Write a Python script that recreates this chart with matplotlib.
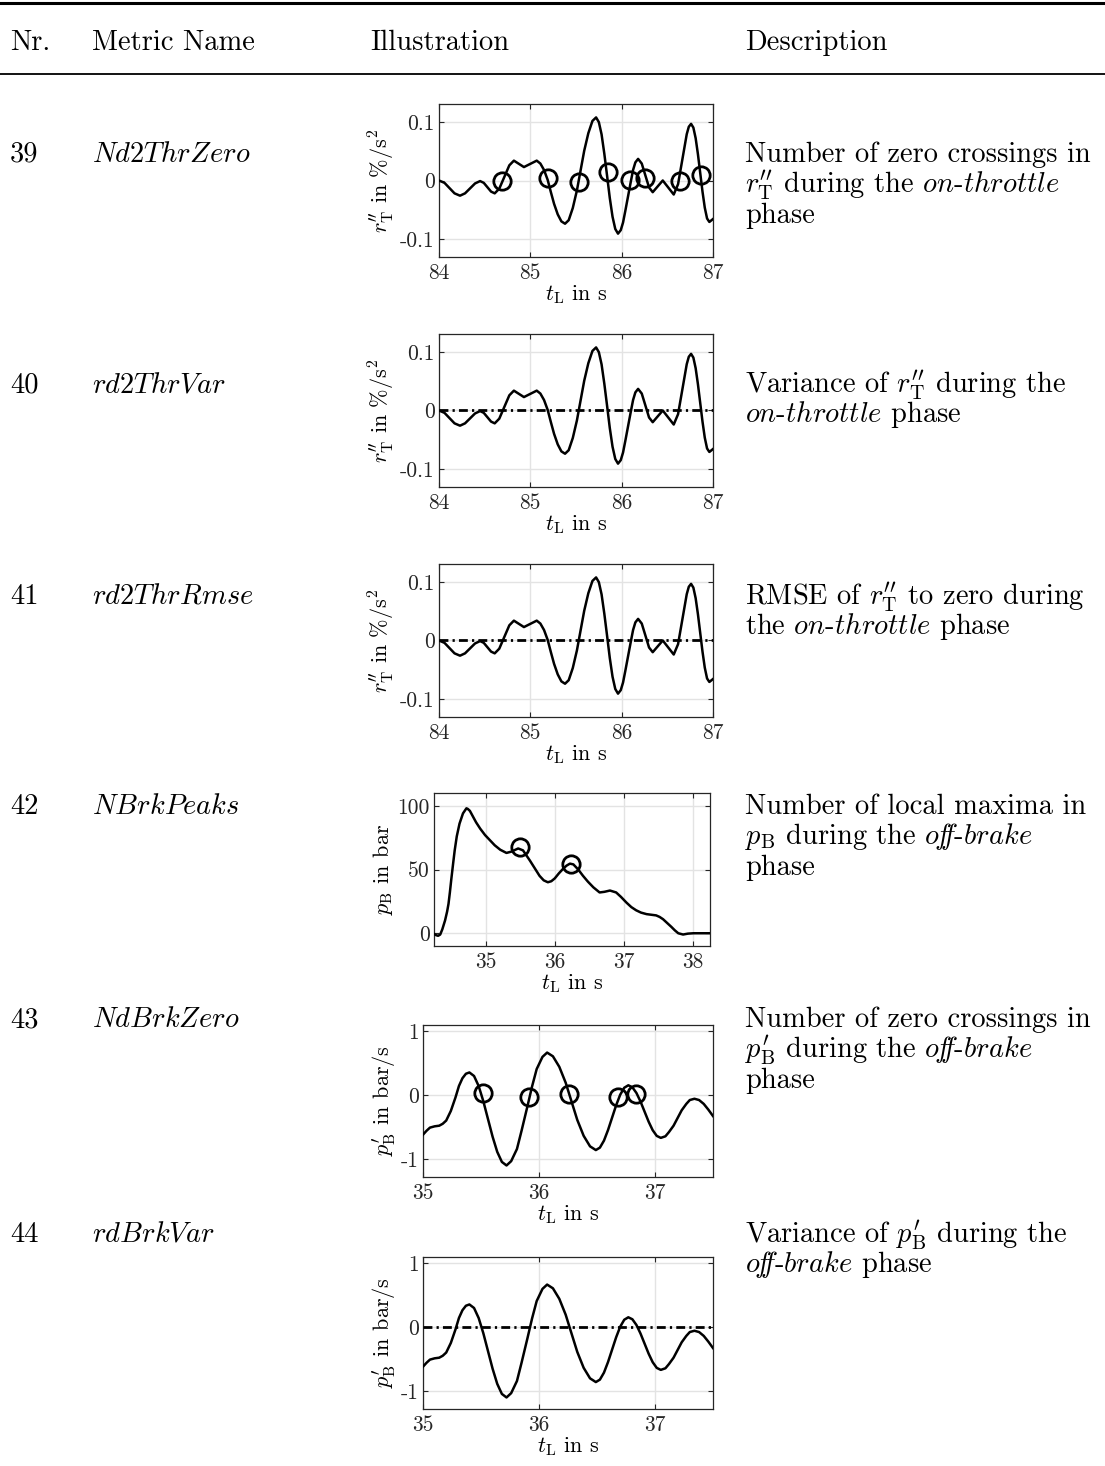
import matplotlib
matplotlib.use("Agg")
import matplotlib.pyplot as plt
from matplotlib.lines import Line2D

plt.rcParams['font.family'] = ['cmr10', 'DejaVu Serif']
plt.rcParams['mathtext.fontset'] = 'cm'
plt.rcParams['axes.unicode_minus'] = False
plt.rcParams['axes.formatter.use_mathtext'] = True

W, H = 1105, 1466

## table content
nr = ['39', '40', '41', '42', '43', '44']
names = [r'$Nd2ThrZero$', r'$rd2ThrVar$', r'$rd2ThrRmse$',
         r'$NBrkPeaks$', r'$NdBrkZero$', r'$rdBrkVar$']
descr = [
    ['Number of zero crossings in',
     r'$r^{\prime\prime}_{\mathrm{T}}$ during the $\mathit{on}$-$\mathit{throttle}$',
     'phase'],
    [r'Variance of $r^{\prime\prime}_{\mathrm{T}}$ during the',
     r'$\mathit{on}$-$\mathit{throttle}$ phase'],
    [r'RMSE of $r^{\prime\prime}_{\mathrm{T}}$ to zero during',
     r'the $\mathit{on}$-$\mathit{throttle}$ phase'],
    ['Number of local maxima in',
     r'$p_{\mathrm{B}}$ during the $\mathit{o\!f\!\!f}$-$\mathit{brake}$',
     'phase'],
    ['Number of zero crossings in',
     r'$p^{\prime}_{\mathrm{B}}$ during the $\mathit{o\!f\!\!f}$-$\mathit{brake}$',
     'phase'],
    [r'Variance of $p^{\prime}_{\mathrm{B}}$ during the',
     r'$\mathit{o\!f\!\!f}$-$\mathit{brake}$ phase'],
]
header = ['Nr.', 'Metric Name', 'Illustration', 'Description']

## second derivative of throttle (rows 39-41)
t_thr = [84.00, 84.06, 84.115, 84.17, 84.23, 84.285, 84.34, 84.395, 84.45, 84.49,
         84.53, 84.57, 84.61, 84.66, 84.715, 84.77, 84.82, 84.875, 84.93, 85.00,
         85.07, 85.11, 85.15, 85.19, 85.225, 85.26, 85.30, 85.34, 85.38, 85.42,
         85.465, 85.51, 85.55, 85.59, 85.635, 85.68, 85.72, 85.75, 85.78, 85.81,
         85.84, 85.87, 85.90, 85.93, 85.96, 85.99, 86.015, 86.04, 86.07, 86.10,
         86.125, 86.15, 86.18, 86.22, 86.26, 86.30, 86.34, 86.395, 86.45, 86.51,
         86.57, 86.6175, 86.665, 86.7125, 86.735, 86.76, 86.785, 86.81, 86.835, 86.86,
         86.885, 86.91, 86.935, 86.96, 87.00]
r_thr = [0.000, -0.004, -0.013, -0.022, -0.026, -0.022, -0.0135, -0.005, -0.001, -0.004,
         -0.0115, -0.019, -0.022, -0.014, 0.006, 0.026, 0.034, 0.0285, 0.023, 0.0285,
         0.034, 0.029, 0.018, 0.001, -0.020, -0.040, -0.058, -0.070, -0.074, -0.068,
         -0.047, -0.017, 0.017, 0.051, 0.081, 0.102, 0.108, 0.100, 0.079, 0.046,
         0.0085, -0.030, -0.062, -0.083, -0.091, -0.085, -0.072, -0.052, -0.027, -0.002,
         0.018, 0.031, 0.037, 0.029, 0.0085, -0.012, -0.020, -0.010, 0.000, -0.012,
         -0.024, -0.0063, 0.0365, 0.0793, 0.092, 0.097, 0.0906, 0.0725, 0.045, 0.013,
         -0.019, -0.0465, -0.065, -0.071, -0.066]
t_thr_zero = [84.69, 85.19, 85.53, 85.85, 86.09, 86.25, 86.64, 86.87]
r_thr_zero = [0.000, 0.004, -0.002, 0.014, 0.001, 0.004, 0.000, 0.009]

## brake pressure (row 42)
t_brk = [34.25, 34.28, 34.31, 34.34, 34.37, 34.41, 34.44, 34.46, 34.48, 34.50,
         34.53, 34.55, 34.58, 34.62, 34.67, 34.72, 34.74, 34.77, 34.81, 34.86,
         34.92, 34.99, 35.06, 35.13, 35.21, 35.30, 35.37, 35.47, 35.54, 35.64,
         35.71, 35.78, 35.84, 35.90, 35.95, 36.00, 36.06, 36.12, 36.17, 36.22,
         36.27, 36.34, 36.41, 36.48, 36.56, 36.65, 36.72, 36.80, 36.89, 36.96,
         37.04, 37.11, 37.18, 37.25, 37.33, 37.40, 37.47, 37.52, 37.57, 37.63,
         37.69, 37.74, 37.79, 37.86, 37.93, 38.01, 38.25]
p_brk = [-0.5, -1.5, -2, -1, 3, 10, 17, 23, 32, 42,
         56, 65, 76, 86, 94, 98, 97.5, 96, 92, 87,
         82, 77, 73, 69, 65.5, 63, 64, 66.5, 65, 57,
         51, 45, 41.5, 40, 40.8, 43, 47, 50.5, 53, 54.6,
         54, 50, 45, 40.5, 36, 32, 32.5, 33.5, 32, 28.5,
         24, 20.5, 18, 16.2, 15, 14.5, 14, 12.8, 11, 8,
         5, 2.3, 0, -1, -0.3, 0, 0]
t_brk_peak = [35.50, 36.24]
p_brk_peak = [67.7, 54.6]

## brake pressure derivative (rows 43-44)
t_dbrk = [35.00, 35.03, 35.06, 35.10, 35.14, 35.17, 35.20, 35.24, 35.28, 35.31,
          35.34, 35.37, 35.40, 35.44, 35.48, 35.52, 35.56, 35.60, 35.64, 35.68,
          35.72, 35.76, 35.81, 35.85, 35.90, 35.94, 35.98, 36.03, 36.07, 36.12,
          36.175, 36.23, 36.28, 36.33, 36.385, 36.44, 36.49, 36.525, 36.56, 36.595,
          36.63, 36.665, 36.70, 36.735, 36.77, 36.805, 36.84, 36.875, 36.91, 36.945,
          36.98, 37.015, 37.05, 37.09, 37.12, 37.16, 37.195, 37.23, 37.27, 37.30,
          37.34, 37.38, 37.42, 37.46, 37.50]
dp_brk = [-0.62, -0.56, -0.51, -0.49, -0.48, -0.45, -0.40, -0.25, -0.04, 0.14,
          0.26, 0.33, 0.35, 0.295, 0.138, -0.098, -0.375, -0.652, -0.888, -1.045,
          -1.10, -1.033, -0.843, -0.556, -0.18, 0.13, 0.403, 0.593, 0.66, 0.602,
          0.438, 0.19, -0.10, -0.39, -0.638, -0.802, -0.86, -0.822, -0.713, -0.548,
          -0.355, -0.162, 0.003, 0.112, 0.15, 0.119, 0.03, -0.103, -0.26, -0.417,
          -0.55, -0.639, -0.67, -0.645, -0.58, -0.48, -0.36, -0.24, -0.14, -0.08,
          -0.06, -0.08, -0.14, -0.23, -0.33]
t_dbrk_zero = [35.52, 35.91, 36.26, 36.68, 36.84]
dp_brk_zero = [0.03, -0.04, 0.02, -0.04, 0.02]

fig = plt.figure(figsize=(W / 100, H / 100), dpi=100)


def fx(px):
    return px / W


def fy(py):
    return 1 - py / H


# horizontal rules
fig.add_artist(Line2D([0, 1], [fy(3), fy(3)], color='black', lw=2.2))
fig.add_artist(Line2D([0, 1], [fy(74), fy(74)], color='black', lw=1.3))

FS = 20.5
head_x = [10, 92, 370, 745]
for hx, ht in zip(head_x, header):
    fig.text(fx(hx), fy(50), ht, fontsize=FS, va='baseline')

row_y = [162, 392, 604, 814, 1027, 1242]
for i in range(6):
    fig.text(fx(10), fy(row_y[i]), nr[i], fontsize=FS, va='baseline')
    fig.text(fx(92), fy(row_y[i]), names[i], fontsize=FS, va='baseline')
    for j, line in enumerate(descr[i]):
        fig.text(fx(745), fy(row_y[i] + 30.5 * j), line, fontsize=FS, va='baseline')

# axes boxes in pixels: left, top, right, bottom
boxes = [(439, 104, 713, 257), (439, 334, 713, 487), (439, 564, 713, 717),
         (434, 793, 710, 946), (423, 1025, 713, 1177), (423, 1257, 713, 1409)]

axs = []
for (l, t, r, b) in boxes:
    ax = fig.add_axes([fx(l), fy(b), (r - l) / W, (b - t) / H])
    axs.append(ax)

LW = 1.8
LFS = 16
for k in range(6):
    ax = axs[k]
    if k < 3:
        ax.plot(t_thr, r_thr, color='black', lw=LW, zorder=3)
        ax.set_xlim(84, 87)
        ax.set_ylim(-0.131, 0.131)
        ax.set_xticks([84, 85, 86, 87])
        ax.set_yticks([-0.1, 0, 0.1])
        ax.set_yticklabels(['-0.1', '0', '0.1'])
        ax.set_ylabel(r'$r^{\prime\prime}_{\mathrm{T}}$ in $\%/\mathrm{s}^2$', fontsize=LFS, labelpad=2)
    elif k == 3:
        ax.plot(t_brk, p_brk, color='black', lw=LW, zorder=3)
        ax.set_xlim(34.25, 38.25)
        ax.set_ylim(-10, 110)
        ax.set_xticks([35, 36, 37, 38])
        ax.set_yticks([0, 50, 100])
        ax.set_yticklabels(['0', '50', '100'])
        ax.set_ylabel(r'$p_{\mathrm{B}}$ in bar', fontsize=LFS, labelpad=2)
    else:
        ax.plot(t_dbrk, dp_brk, color='black', lw=LW, zorder=3)
        ax.set_xlim(35, 37.5)
        ax.set_ylim(-1.28, 1.09)
        ax.set_xticks([35, 36, 37])
        ax.set_yticks([-1, 0, 1])
        ax.set_yticklabels(['-1', '0', '1'])
        ax.set_ylabel(r'$p^{\prime}_{\mathrm{B}}$ in bar/s', fontsize=LFS, labelpad=2)
    ax.set_xticklabels([str(v) for v in ax.get_xticks().astype(int)])
    ax.set_xlabel(r'$t_{\mathrm{L}}$ in s', fontsize=LFS, labelpad=0)
    ax.grid(True, color='#e3e3e3', lw=1.0, zorder=0)
    ax.set_axisbelow(True)
    ax.tick_params(direction='in', length=3.5, width=0.8, top=True, right=True,
                   labelsize=15.5, colors='#262626')
    ax.tick_params(axis='x', pad=5)
    ax.tick_params(axis='y', pad=3)
    for s in ax.spines.values():
        s.set_color('#262626')
        s.set_linewidth(0.9)

# markers and reference lines
axs[0].plot(t_thr_zero, r_thr_zero, 'o', ms=12.5, mfc='none', mec='black', mew=2.0, zorder=4)
axs[3].plot(t_brk_peak, p_brk_peak, 'o', ms=12.5, mfc='none', mec='black', mew=2.0, zorder=4)
axs[4].plot(t_dbrk_zero, dp_brk_zero, 'o', ms=12.5, mfc='none', mec='black', mew=2.0, zorder=4)
for k in [1, 2, 5]:
    axs[k].axhline(0, color='black', lw=2.0, dashes=[3.2, 1.5, 0.8, 1.5], zorder=4)

fig.savefig('out.png', dpi=100)
